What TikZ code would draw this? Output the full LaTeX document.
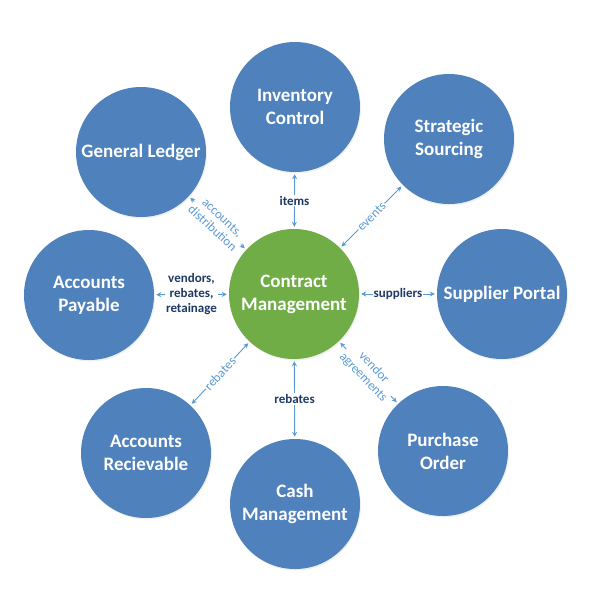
\documentclass[tikz,border=0pt]{standalone}
\usepackage{fontspec}
\setmainfont{Carlito}
\usepackage{xcolor}
\usetikzlibrary{arrows.meta,shadows}

\definecolor{moduleblue}{HTML}{4F81BD}
\definecolor{hubgreen}{HTML}{70AD47}
\definecolor{linkblue}{HTML}{5B9BD5}
\definecolor{labelnavy}{HTML}{1F3864}

\begin{document}
\begin{tikzpicture}[
    x=1pt, y=-1pt,
    module/.style={circle, fill=moduleblue, minimum size=130pt, inner sep=0pt, align=center, text=white, font=\fontsize{19}{23}\selectfont\bfseries, drop shadow={opacity=0.12, shadow xshift=1pt, shadow yshift=-1.5pt}},
    hub/.style={circle, fill=hubgreen, minimum size=130pt, inner sep=0pt, align=center, text=white, font=\fontsize{19}{23}\selectfont\bfseries, drop shadow={opacity=0.12, shadow xshift=1pt, shadow yshift=-1.5pt}},
    link/.style={{Stealth[length=5pt,width=5pt]}-{Stealth[length=5pt,width=5pt]}, draw=linkblue, fill=linkblue, line width=0.9pt, shorten >=2pt, shorten <=2pt},
    tag/.style={fill=white, inner sep=1pt, text=labelnavy, align=center, font=\fontsize{13}{15}\selectfont\bfseries},
    slanttag/.style={fill=white, inner sep=1pt, text=linkblue, align=center, sloped, font=\fontsize{13}{14.5}\selectfont}
]
    \useasboundingbox (0,0) rectangle (601,598);

    % Hub
    \node [hub] (contract) at (294,294) {Contract\\Management};

    % Modules round the hub
    \node [module] (inventory) at (295,107) {Inventory\\Control};
    \node [module] (sourcing) at (449,139) {Strategic\\Sourcing};
    \node [module] (portal) at (502,294) {Supplier Portal};
    \node [module] (purchase) at (443,451) {Purchase\\Order};
    \node [module] (cash) at (295,504) {Cash\\Management};
    \node [module] (receivable) at (146,453) {Accounts\\Recievable};
    \node [module] (payable) at (89,295) {Accounts\\Payable};
    \node [module] (ledger) at (141,152) {General Ledger};

    % Connections
    \draw [link] (contract) -- node[tag] {items} (inventory);
    \draw [link] (contract) -- node[slanttag] {events} (sourcing);
    \draw [link] (contract) -- node[tag] {suppliers} (portal);
    \draw [link] (contract) -- node[slanttag] {vendor\\agreements} (purchase);
    \draw [link] (contract) -- node[tag] {rebates} (cash);
    \draw [link] (receivable) -- node[slanttag] {rebates} (contract);
    \draw [link] (payable) -- node[tag] {vendors,\\rebates,\\retainage} (contract);
    \draw [link] (ledger) -- node[slanttag] {accounts,\\distribution} (contract);

\end{tikzpicture}
\end{document}
